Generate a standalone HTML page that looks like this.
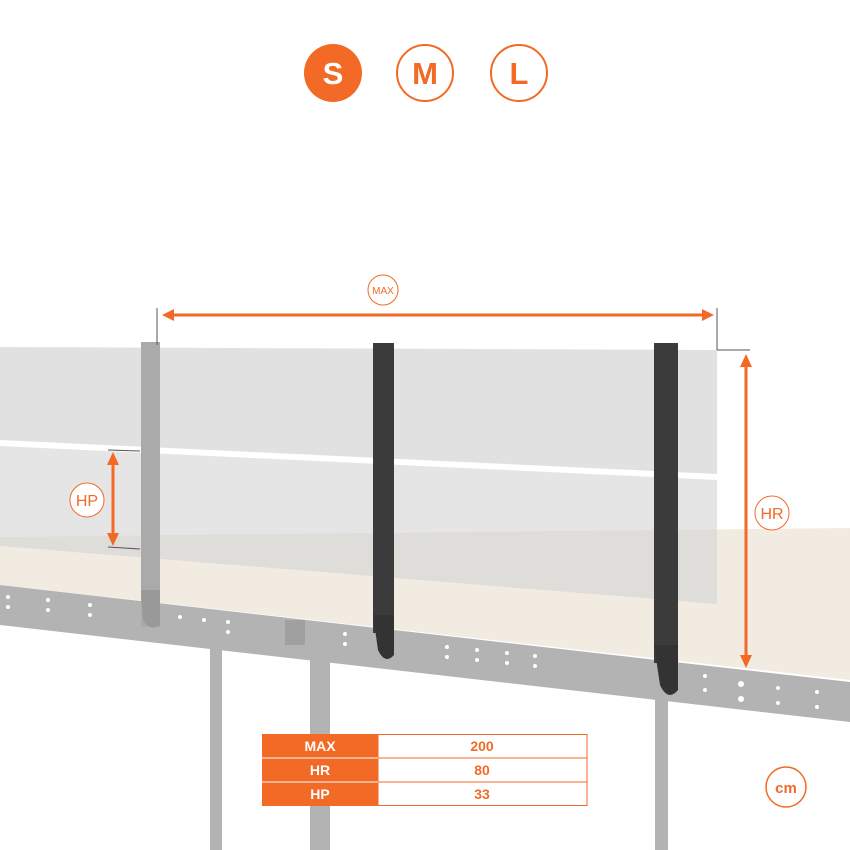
<!DOCTYPE html>
<html><head><meta charset="utf-8"><style>
html,body{margin:0;padding:0;background:#fff}
svg{display:block}
text{font-family:"Liberation Sans",sans-serif}
</style></head><body>
<svg width="850" height="850" viewBox="0 0 850 850" xmlns="http://www.w3.org/2000/svg">
<circle cx="333" cy="73" r="29" fill="#f26a25"/>
<text x="333" y="84" text-anchor="middle" font-size="31" font-weight="bold" fill="#fff">S</text>
<circle cx="425" cy="73" r="28" fill="none" stroke="#f26a25" stroke-width="2"/>
<text x="425" y="84" text-anchor="middle" font-size="31" font-weight="bold" fill="#f26a25">M</text>
<circle cx="519" cy="73" r="28" fill="none" stroke="#f26a25" stroke-width="2"/>
<text x="519" y="84" text-anchor="middle" font-size="31" font-weight="bold" fill="#f26a25">L</text>

<rect x="210" y="635" width="12" height="215" fill="#b3b3b3"/>
<rect x="310" y="625" width="20" height="225" fill="#b3b3b3"/>
<rect x="655" y="695" width="13" height="155" fill="#b3b3b3"/>

<polygon points="0,537 850,528 850,680 0,585" fill="#f1ebe2"/>
<polygon points="0,585 850,682 850,722 0,625" fill="#b3b3b3"/>
<g fill="#fff">
<circle cx="8" cy="597" r="2"/><circle cx="8" cy="607" r="2"/>
<circle cx="48" cy="600" r="2"/><circle cx="48" cy="610" r="2"/>
<circle cx="90" cy="605" r="2"/><circle cx="90" cy="615" r="2"/>
<circle cx="180" cy="617" r="2"/><circle cx="204" cy="620" r="2"/>
<circle cx="228" cy="622" r="2"/><circle cx="228" cy="632" r="2"/>
<circle cx="300" cy="630" r="2"/><circle cx="345" cy="634" r="2"/><circle cx="345" cy="644" r="2"/>
<circle cx="447" cy="647" r="2"/><circle cx="447" cy="657" r="2"/>
<circle cx="477" cy="650" r="2"/><circle cx="477" cy="660" r="2"/>
<circle cx="507" cy="653" r="2"/><circle cx="507" cy="663" r="2"/>
<circle cx="535" cy="656" r="2"/><circle cx="535" cy="666" r="2"/>
<circle cx="705" cy="676" r="2"/><circle cx="705" cy="690" r="2"/>
<circle cx="741" cy="684" r="3"/><circle cx="741" cy="699" r="3"/>
<circle cx="778" cy="688" r="2"/><circle cx="778" cy="703" r="2"/>
<circle cx="817" cy="692" r="2"/><circle cx="817" cy="707" r="2"/>
</g>
<rect x="285" y="620" width="20" height="25" fill="#a0a0a0"/>

<polygon points="0,347 717,350 717,474 0,440" fill="#dcdcdc" opacity="0.85"/>
<polygon points="0,446 717,480 717,604 0,546" fill="#d4d4d4" opacity="0.6"/>

<rect x="141" y="342" width="19" height="285" fill="#aaaaaa"/>
<path d="M141,590 L160,590 L160,625 Q150,632 143,620 Z" fill="#999"/>
<rect x="373" y="343" width="21" height="290" fill="#3b3b3b"/>
<path d="M373,615 L394,615 L394,655 Q385,665 378,650 Z" fill="#333"/>
<rect x="654" y="343" width="24" height="320" fill="#3b3b3b"/>
<path d="M654,645 L678,645 L678,690 Q668,702 660,685 Z" fill="#333"/>

<line x1="157" y1="308" x2="157" y2="345" stroke="#555" stroke-width="1"/>
<line x1="717" y1="308" x2="717" y2="350" stroke="#555" stroke-width="1"/>
<line x1="170" y1="315" x2="704" y2="315" stroke="#f26a25" stroke-width="3"/>
<polygon points="162,315 174,309 174,321" fill="#f26a25"/>
<polygon points="714,315 702,309 702,321" fill="#f26a25"/>
<circle cx="383" cy="290" r="15" fill="#fff" stroke="#f26a25" stroke-width="1"/>
<text x="383" y="294" text-anchor="middle" font-size="10" fill="#f26a25">MAX</text>

<line x1="717" y1="350" x2="750" y2="350" stroke="#555" stroke-width="1"/>
<line x1="746" y1="364" x2="746" y2="657" stroke="#f26a25" stroke-width="3"/>
<polygon points="746,354 740,367 752,367" fill="#f26a25"/>
<polygon points="746,668 740,655 752,655" fill="#f26a25"/>
<circle cx="772" cy="513" r="17" fill="#fff" stroke="#f26a25" stroke-width="1"/>
<text x="772" y="519" text-anchor="middle" font-size="16" fill="#f26a25">HR</text>

<line x1="108" y1="450" x2="140" y2="451" stroke="#555" stroke-width="1"/>
<line x1="108" y1="547" x2="140" y2="549" stroke="#555" stroke-width="1"/>
<line x1="113" y1="462" x2="113" y2="536" stroke="#f26a25" stroke-width="3"/>
<polygon points="113,452 107,465 119,465" fill="#f26a25"/>
<polygon points="113,546 107,533 119,533" fill="#f26a25"/>
<circle cx="87" cy="500" r="17" fill="#fff" stroke="#f26a25" stroke-width="1"/>
<text x="87" y="506" text-anchor="middle" font-size="16" fill="#f26a25">HP</text>

<g font-size="14" font-weight="bold">
<rect x="262" y="734" width="116" height="72" fill="#f26a25"/>
<rect x="378" y="734.5" width="209" height="23.5" fill="#fff" stroke="#f26a25"/>
<rect x="378" y="758" width="209" height="24" fill="#fff" stroke="#f26a25"/>
<rect x="378" y="782" width="209" height="23.5" fill="#fff" stroke="#f26a25"/>
<line x1="262" y1="758" x2="378" y2="758" stroke="#fff"/>
<line x1="262" y1="782" x2="378" y2="782" stroke="#fff"/>
<text x="320" y="751" text-anchor="middle" fill="#fff">MAX</text>
<text x="320" y="775" text-anchor="middle" fill="#fff">HR</text>
<text x="320" y="799" text-anchor="middle" fill="#fff">HP</text>
<text x="482" y="751" text-anchor="middle" fill="#f26a25">200</text>
<text x="482" y="775" text-anchor="middle" fill="#f26a25">80</text>
<text x="482" y="799" text-anchor="middle" fill="#f26a25">33</text>
</g>
<circle cx="786" cy="787" r="20" fill="#fff" stroke="#f26a25" stroke-width="1.5"/>
<text x="786" y="793" text-anchor="middle" font-size="15" font-weight="bold" fill="#f26a25">cm</text>
</svg>
</body></html>
